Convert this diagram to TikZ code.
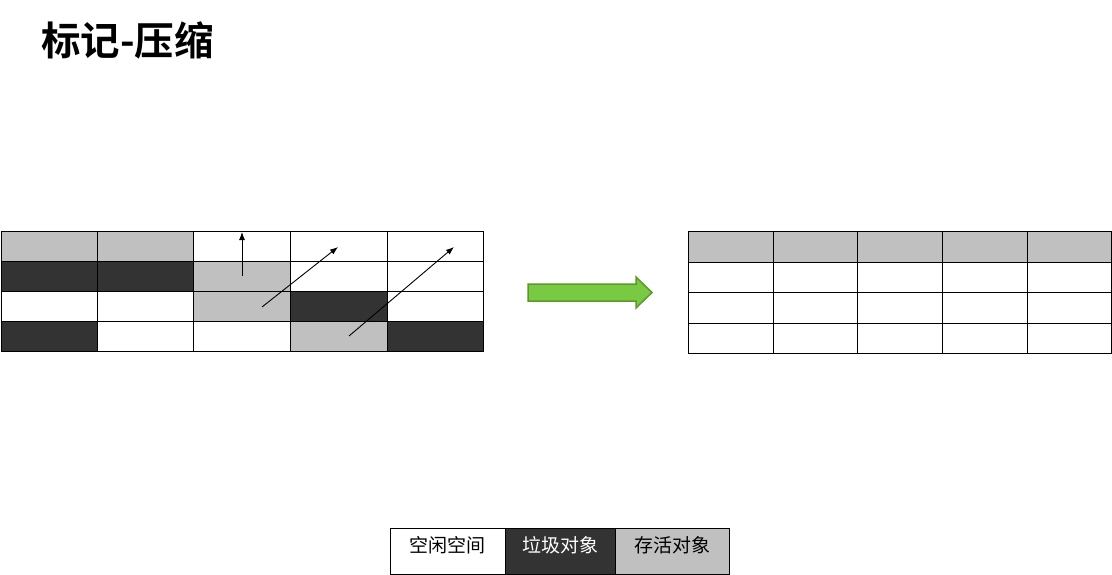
\documentclass[tikz,border=0pt]{standalone}
\usepackage{fontspec}
\newfontfamily\cjk{Noto Sans CJK SC}
\newfontfamily\cjkb{Noto Sans CJK SC Bold}
\usetikzlibrary{arrows.meta}
\definecolor{darkc}{HTML}{333333}
\definecolor{grayc}{HTML}{C0C0C0}
\definecolor{greenf}{HTML}{7AC943}
\definecolor{greend}{HTML}{5A9A2A}
\tikzset{
  cellw/.style={draw=black, line width=1pt, fill=white},
  cellg/.style={draw=black, line width=1pt, fill=grayc},
  celld/.style={draw=black, line width=1pt, fill=darkc},
  mv/.style={-{Latex[length=8pt,width=6pt]}, line width=0.9pt},
}
\begin{document}
\begin{tikzpicture}[x=1pt,y=-1pt]
\useasboundingbox (0,0) rectangle (1112,575);
\node[anchor=west, inner sep=0pt] (title) at (41,40) {\cjkb\fontsize{39.5}{42}\selectfont 标记-压缩};
% left grid
\def\xs{{1,97,193,290,387,483}}
\def\ys{{231,261,291,321,351}}
\foreach \r/\c/\s in {0/0/cellg,0/1/cellg,0/2/cellw,0/3/cellw,0/4/cellw,
  1/0/celld,1/1/celld,1/2/cellg,1/3/cellw,1/4/cellw,
  2/0/cellw,2/1/cellw,2/2/cellg,2/3/celld,2/4/cellw,
  3/0/celld,3/1/cellw,3/2/cellw,3/3/cellg,3/4/celld}{
  \pgfmathsetmacro\xa{\xs[\c]}\pgfmathsetmacro\xb{\xs[\c+1]}
  \pgfmathsetmacro\ya{\ys[\r]}\pgfmathsetmacro\yb{\ys[\r+1]}
  \draw[\s] (\xa,\ya) rectangle (\xb,\yb);
}
\coordinate (a1s) at (242,276);
\coordinate (a1e) at (242,232);
\coordinate (a2s) at (262,307);
\coordinate (a2e) at (338,247);
\coordinate (a3s) at (349,336);
\coordinate (a3e) at (454,247);
\draw[mv] (a1s) -- (a1e);
\draw[mv] (a2s) -- (a2e);
\draw[mv] (a3s) -- (a3e);
% right grid
\def\xr{{688,773,857,942,1027,1111}}
\def\yr{{231,262,292,323,353}}
\foreach \r in {0,1,2,3}{
  \foreach \c in {0,1,2,3,4}{
    \pgfmathsetmacro\xa{\xr[\c]}\pgfmathsetmacro\xb{\xr[\c+1]}
    \pgfmathsetmacro\ya{\yr[\r]}\pgfmathsetmacro\yb{\yr[\r+1]}
    \ifnum\r=0 \def\st{cellg}\else\def\st{cellw}\fi
    \draw[\st] (\xa,\ya) rectangle (\xb,\yb);
  }
}
% big arrow
\draw[draw=greend, fill=greenf, line width=1.5pt, line join=miter]
  (528,284) -- (636,284) -- (636,277) -- (652,292.5) -- (636,308) -- (636,301) -- (528,301) -- cycle;
% legend
\node[cellw, minimum width=115pt, minimum height=46pt, inner sep=0pt, anchor=north west] (l1) at (390,528) {};
\node[celld, minimum width=110pt, minimum height=46pt, inner sep=0pt, anchor=north west] (l2) at (505,528) {};
\node[cellg, minimum width=114pt, minimum height=46pt, inner sep=0pt, anchor=north west] (l3) at (615,528) {};
\node[inner sep=0pt] (t1) at (447.5,545) {\cjk\fontsize{19}{21}\selectfont 空闲空间};
\node[inner sep=0pt, text=white] (t2) at (560,545) {\cjk\fontsize{19}{21}\selectfont 垃圾对象};
\node[inner sep=0pt] (t3) at (672,545) {\cjk\fontsize{19}{21}\selectfont 存活对象};
\end{tikzpicture}
\end{document}
